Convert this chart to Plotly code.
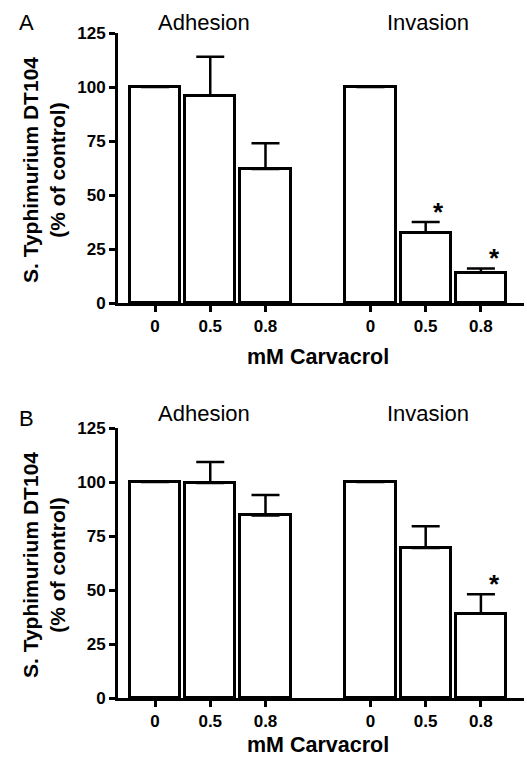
import plotly.graph_objects as go

# ---- data ----
conc_labels = ["0", "0.5", "0.8"]
groups = ["Adhesion", "Invasion"]

A_adhesion = [100, 96, 62]
A_adhesion_err = [0, 18, 12]
A_invasion = [100, 32.5, 14]
A_invasion_err = [0, 5, 2]
A_signif_inv = [False, True, True]

B_adhesion = [100, 99.5, 84.5]
B_adhesion_err = [0, 9.8, 9.5]
B_invasion = [100, 69.5, 39]
B_invasion_err = [0, 10, 9]
B_signif_inv = [False, False, True]

yticks = [0, 25, 50, 75, 100, 125]

FONT = "Liberation Sans, Arial, sans-serif"
W, H = 527, 759
ML, MR = 118, 3
GAP = 3.9  # offset of second group, in bar slots
TITLE_SHIFT = [-0.12, 0.04]


def px_x(px):
    return (px - ML) / (W - ML - MR)


def px_y(py):
    return 1 - py / H


fig = go.Figure()


def add_panel(idx, adh, adh_err, inv, inv_err, sig_inv, top_px, bot_px,
              letter, title_px, letter_px, xtitle_px):
    xa = "x" if idx == 1 else "x2"
    ya = "y" if idx == 1 else "y2"
    pos_adh = [i for i in range(len(adh))]
    pos_inv = [GAP + i for i in range(len(inv))]
    for pos, vals, errs in ((pos_adh, adh, adh_err), (pos_inv, inv, inv_err)):
        fig.add_trace(go.Bar(
            x=pos, y=vals, width=0.91, xaxis=xa, yaxis=ya,
            marker=dict(color="white", line=dict(color="black", width=3)),
            error_y=dict(type="data", symmetric=False, array=errs,
                         arrayminus=[0] * len(errs),
                         color="black", thickness=2.5, width=14,
                         visible=True),
            showlegend=False, hoverinfo="skip",
        ))
    # significance stars
    for p, v, e, s in zip(pos_inv, inv, inv_err, sig_inv):
        if s:
            fig.add_annotation(x=p + 0.24, y=v + e, xref=xa, yref=ya,
                               text="<b>*</b>", showarrow=False,
                               yanchor="middle", yshift=10,
                               font=dict(family=FONT, size=26, color="black"))
    # group titles
    for gname, gpos, sh in ((groups[0], pos_adh, TITLE_SHIFT[0]),
                            (groups[1], pos_inv, TITLE_SHIFT[1])):
        fig.add_annotation(x=gpos[1] + sh, y=px_y(title_px), xref=xa,
                           yref="paper", text=gname, showarrow=False,
                           yanchor="middle",
                           font=dict(family=FONT, size=22, color="black"))
    fig.add_annotation(x=px_x(26), y=px_y(letter_px), xref="paper",
                       yref="paper", text=letter, showarrow=False,
                       xanchor="center", yanchor="middle",
                       font=dict(family=FONT, size=22, color="black"))
    # x title
    fig.add_annotation(x=px_x(318), y=px_y(xtitle_px), xref="paper",
                       yref="paper", text="<b>mM Carvacrol</b>",
                       showarrow=False, yanchor="middle",
                       font=dict(family=FONT, size=21.5, color="black"))
    # y title
    fig.add_annotation(x=px_x(44), y=px_y((top_px + bot_px) / 2 + 2),
                       xref="paper", yref="paper",
                       text="<b>S. Typhimurium DT104<br>(% of control)</b>",
                       showarrow=False, textangle=-90,
                       xanchor="center", yanchor="middle",
                       font=dict(family=FONT, size=21, color="black"))
    return pos_adh + pos_inv


topA, botA = 33, 303
topB, botB = 428, 698
posA = add_panel(1, A_adhesion, A_adhesion_err, A_invasion, A_invasion_err,
                 A_signif_inv, topA, botA, "A", 22, 22, 357)
posB = add_panel(2, B_adhesion, B_adhesion_err, B_invasion, B_invasion_err,
                 B_signif_inv, topB, botB, "B", 414, 418, 745)

axis_common = dict(showline=True, linecolor="black", linewidth=3,
                   ticks="outside", tickcolor="black", tickwidth=3,
                   showgrid=False, zeroline=False, automargin=False,
                   tickfont=dict(family=FONT, size=17, color="black",
                                 weight="bold"))
xr = [-0.67, 6.68]
fig.update_layout(
    width=W, height=H, plot_bgcolor="white", paper_bgcolor="white",
    margin=dict(l=ML, r=MR, t=0, b=0), bargap=0, showlegend=False,
    hovermode=False,
    xaxis=dict(domain=[0, 1], range=xr, anchor="y", tickvals=posA,
               ticktext=conc_labels * 2, ticklen=6, **axis_common),
    yaxis=dict(domain=[px_y(botA), px_y(topA)], range=[0, 125], anchor="x",
               tickvals=yticks, ticklen=6, **axis_common),
    xaxis2=dict(domain=[0, 1], range=xr, anchor="y2", tickvals=posB,
                ticktext=conc_labels * 2, ticklen=6, **axis_common),
    yaxis2=dict(domain=[px_y(botB), px_y(topB)], range=[0, 125], anchor="x2",
                tickvals=yticks, ticklen=6, **axis_common),
)

fig.write_html("out.html", config={"displayModeBar": False},
               post_script="document.body.style.margin='0';"
                           "document.body.style.overflow='hidden';")
